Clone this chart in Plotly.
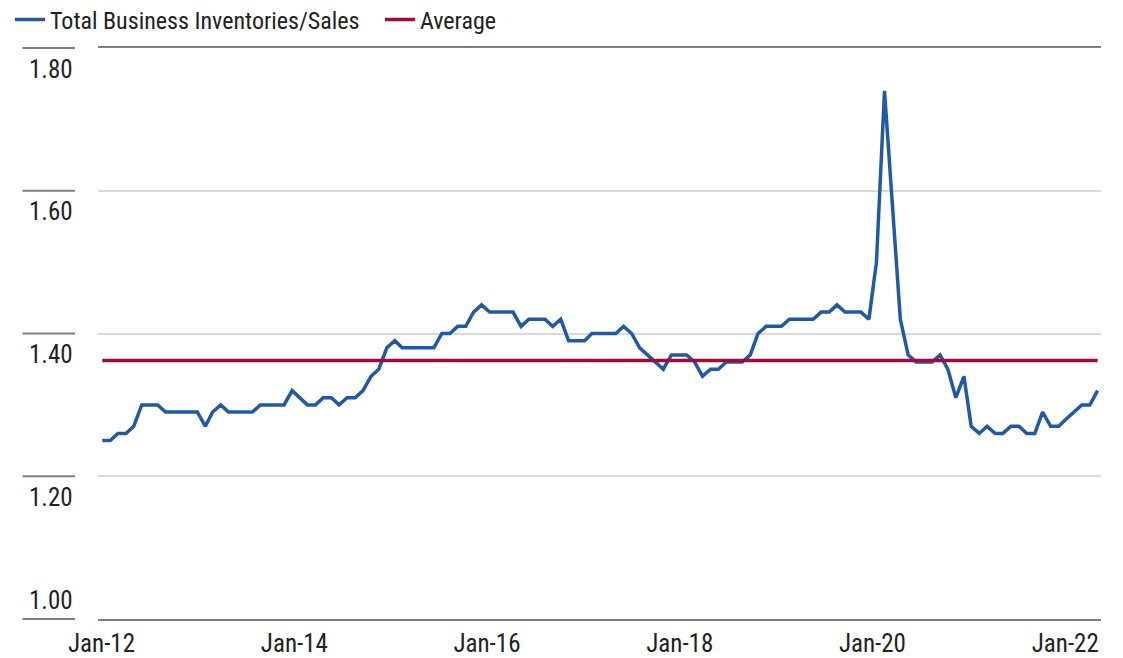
import pandas as pd
import plotly.graph_objects as go

# ---- data ----
START_MONTH = "2012-01-01"
RATIO = [
    1.25, 1.25, 1.26, 1.26, 1.27, 1.30, 1.30, 1.30, 1.29, 1.29, 1.29, 1.29,  # 2012
    1.29, 1.27, 1.29, 1.30, 1.29, 1.29, 1.29, 1.29, 1.30, 1.30, 1.30, 1.30,  # 2013
    1.32, 1.31, 1.30, 1.30, 1.31, 1.31, 1.30, 1.31, 1.31, 1.32, 1.34, 1.35,  # 2014
    1.38, 1.39, 1.38, 1.38, 1.38, 1.38, 1.38, 1.40, 1.40, 1.41, 1.41, 1.43,  # 2015
    1.44, 1.43, 1.43, 1.43, 1.43, 1.41, 1.42, 1.42, 1.42, 1.41, 1.42, 1.39,  # 2016
    1.39, 1.39, 1.40, 1.40, 1.40, 1.40, 1.41, 1.40, 1.38, 1.37, 1.36, 1.35,  # 2017
    1.37, 1.37, 1.37, 1.36, 1.34, 1.35, 1.35, 1.36, 1.36, 1.36, 1.37, 1.40,  # 2018
    1.41, 1.41, 1.41, 1.42, 1.42, 1.42, 1.42, 1.43, 1.43, 1.44, 1.43, 1.43,  # 2019
    1.43, 1.42, 1.50, 1.74, 1.58, 1.42, 1.37, 1.36, 1.36, 1.36, 1.37, 1.35,  # 2020
    1.31, 1.34, 1.27, 1.26, 1.27, 1.26, 1.26, 1.27, 1.27, 1.26, 1.26, 1.29,  # 2021
    1.27, 1.27, 1.28, 1.29, 1.30, 1.30, 1.32,                                # 2022
]
AVERAGE = 1.362

Y_RANGE = [1.0, 1.8]
Y_TICKS = [1.00, 1.20, 1.40, 1.60, 1.80]
Y_TICK_TEXT = ["1.00", "1.20", "1.40", "1.60", "1.80"]
X_TICK_DATES = ["2012-01-01", "2014-01-01", "2016-01-01", "2018-01-01", "2020-01-01", "2022-01-01"]
X_TICK_TEXT = ["Jan-12", "Jan-14", "Jan-16", "Jan-18", "Jan-20", "Jan-22"]

SERIES_NAME = "Total Business Inventories/Sales"
AVG_NAME = "Average"

# ---- styling ----
BLUE = "#1F59A8"
RED = "#A5093B"
TEXT = "#222222"
DARK_LINE = "#7F7F7F"
GRID = "#D9D9D9"
FONT = "Roboto Condensed, Liberation Sans Narrow, Roboto, sans-serif"
FS_LEG = 24
FS_TICK = 25

W, H = 1123, 658
M_L, M_R, M_T, M_B = 98, 22, 48, 39
PLOT_W = W - M_L - M_R
PLOT_H = H - M_T - M_B

dates = pd.date_range(START_MONTH, periods=len(RATIO), freq="MS")

fig = go.Figure()
fig.add_trace(go.Scatter(
    x=dates, y=RATIO, mode="lines", name=SERIES_NAME,
    line=dict(color=BLUE, width=3.5),
))
fig.add_trace(go.Scatter(
    x=[dates[0], dates[-1]], y=[AVERAGE, AVERAGE], mode="lines", name=AVG_NAME,
    line=dict(color=RED, width=3.5),
))
# carrier for the label axis
fig.add_trace(go.Scatter(
    x=pd.to_datetime(X_TICK_DATES), y=[None] * len(X_TICK_DATES), xaxis="x2",
    mode="lines", showlegend=False, hoverinfo="skip",
))

fig.update_layout(
    width=W, height=H,
    margin=dict(l=M_L, r=M_R, t=M_T, b=M_B, autoexpand=False),
    paper_bgcolor="white", plot_bgcolor="white",
    font=dict(family=FONT, size=FS_TICK, color=TEXT),
    showlegend=True,
    legend=dict(
        orientation="h", xref="paper", yref="paper",
        x=(10 - M_L) / PLOT_W, y=1 + (M_T - 20) / PLOT_H, xanchor="left", yanchor="middle",
        font=dict(family=FONT, size=FS_LEG, color=TEXT),
        itemwidth=30, entrywidth=325, tracegroupgap=0, bgcolor="rgba(0,0,0,0)",
    ),
    xaxis=dict(
        type="date",
        range=["2011-12-15 10:00", "2022-07-14 00:00"],
        showticklabels=False, showgrid=False, zeroline=False,
        showline=True, mirror=True, linecolor=DARK_LINE, linewidth=2,
        ticks="",
    ),
    xaxis2=dict(
        type="date", overlaying="x", anchor="y", side="bottom",
        range=["2011-12-18 17:00", "2022-05-16 10:00"],
        tickvals=pd.to_datetime(X_TICK_DATES), ticktext=X_TICK_TEXT,
        showgrid=False, zeroline=False, showline=False, ticks="",
        ticklabelstandoff=7,
        tickfont=dict(family=FONT, size=FS_TICK, color=TEXT),
    ),
    yaxis=dict(
        range=Y_RANGE, tickvals=Y_TICKS, showticklabels=False,
        showgrid=True, gridcolor=GRID, gridwidth=2, zeroline=False,
        showline=False, ticks="",
    ),
)

# y labels sit just under their grid line (bottom one sits above the axis),
# with a short dark rule to the left of the plot
seg_x0 = (22.5 - M_L) / PLOT_W
seg_x1 = (75 - M_L) / PLOT_W
for v, t in zip(Y_TICKS, Y_TICK_TEXT):
    yp = (v - Y_RANGE[0]) / (Y_RANGE[1] - Y_RANGE[0])
    fig.add_shape(type="line", xref="paper", yref="paper", x0=seg_x0, x1=seg_x1, y0=yp, y1=yp,
                  line=dict(color=DARK_LINE, width=2))
    below = v != min(Y_TICKS)
    fig.add_annotation(
        text=t, xref="paper", yref="y", x=seg_x1, y=v, xanchor="right", yanchor="middle",
        yshift=-21 if below else 19, showarrow=False,
        font=dict(family=FONT, size=FS_TICK, color=TEXT),
    )

# the page's default body margin would push the chart 8px down/right
fig.write_html(
    "out.html",
    config={"displayModeBar": False},
    post_script="document.body.style.margin='0';",
)
